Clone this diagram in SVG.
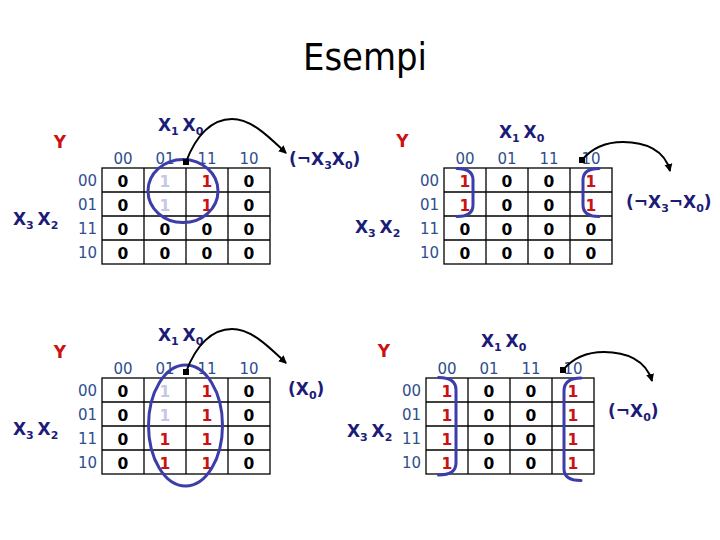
<svg xmlns="http://www.w3.org/2000/svg" width="720" height="540" viewBox="0 0 720 540">
<defs>
<style>
.title{font-family:"DejaVu Sans",sans-serif;font-size:37px;fill:#000}
.lbl{font-family:"DejaVu Sans",sans-serif;font-weight:bold;font-size:17px;fill:#1c1c78}
.sub{font-size:11px}
.y{font-family:"DejaVu Sans",sans-serif;font-weight:bold;font-size:17px;fill:#cc1111;text-anchor:middle}
.hd{font-family:"DejaVu Sans",sans-serif;font-size:15px;fill:#2e4e8e;text-anchor:middle}
.rh{font-family:"DejaVu Sans",sans-serif;font-size:15px;fill:#2e4e8e;text-anchor:end}
.v{font-family:"DejaVu Sans",sans-serif;font-weight:bold;font-size:15.5px;fill:#000;text-anchor:middle}
.r{fill:#cc1111}
.l{fill:#c6c6e6}
.grid{fill:#fff;stroke:#000;stroke-width:1.3}
.gl{stroke:#000;stroke-width:1.3}
.loop{fill:none;stroke:#3c3caa;stroke-width:3;stroke-linecap:round}
.arr{fill:none;stroke:#000;stroke-width:2}
</style>
<marker id="ah" markerWidth="10" markerHeight="10" refX="7" refY="5" orient="auto" markerUnits="userSpaceOnUse">
<path d="M0,1 L8,5 L0,9 Z" fill="#000"/>
</marker>
<g id="gridlines">
<rect class="grid" x="0" y="0" width="168" height="96"/>
<path class="gl" d="M42,0V96M84,0V96M126,0V96M0,24H168M0,48H168M0,72H168"/>
<text class="hd" x="21" y="-4">00</text><text class="hd" x="63" y="-4">01</text><text class="hd" x="105" y="-4">11</text><text class="hd" x="147" y="-4">10</text>
<text class="rh" x="-5" y="18">00</text><text class="rh" x="-5" y="42">01</text><text class="rh" x="-5" y="66">11</text><text class="rh" x="-5" y="90">10</text>
</g>
</defs>
<rect width="720" height="540" fill="#fff"/>
<text class="title" x="303" y="70" textLength="124" lengthAdjust="spacingAndGlyphs">Esempi</text>

<g id="map1">
<text class="y" x="60" y="148">Y</text>
<text class="lbl" x="158" y="131">X<tspan class="sub" dy="4">1 </tspan><tspan dy="-4">X</tspan><tspan class="sub" dy="4">0</tspan></text>
<text class="lbl" x="13" y="225">X<tspan class="sub" dy="4">3 </tspan><tspan dy="-4">X</tspan><tspan class="sub" dy="4">2</tspan></text>
<g transform="translate(102,168)">
<use href="#gridlines"/>
<text class="v" x="21" y="19">0</text><text class="v l" x="63" y="19">1</text><text class="v r" x="105" y="19">1</text><text class="v" x="147" y="19">0</text>
<text class="v" x="21" y="43">0</text><text class="v l" x="63" y="43">1</text><text class="v r" x="105" y="43">1</text><text class="v" x="147" y="43">0</text>
<text class="v" x="21" y="67">0</text><text class="v" x="63" y="67">0</text><text class="v" x="105" y="67">0</text><text class="v" x="147" y="67">0</text>
<text class="v" x="21" y="91">0</text><text class="v" x="63" y="91">0</text><text class="v" x="105" y="91">0</text><text class="v" x="147" y="91">0</text>
</g>
<ellipse class="loop" cx="183" cy="191" rx="35" ry="31.5"/>
<text class="lbl" x="289" y="165">(¬X<tspan class="sub" dy="4">3</tspan><tspan dy="-4">X</tspan><tspan class="sub" dy="4">0</tspan><tspan dy="-4">)</tspan></text>
</g>

<g id="map2">
<text class="y" x="402.5" y="147">Y</text>
<text class="lbl" x="499" y="138">X<tspan class="sub" dy="4">1 </tspan><tspan dy="-4">X</tspan><tspan class="sub" dy="4">0</tspan></text>
<text class="lbl" x="355" y="233">X<tspan class="sub" dy="4">3 </tspan><tspan dy="-4">X</tspan><tspan class="sub" dy="4">2</tspan></text>
<g transform="translate(444,168)">
<use href="#gridlines"/>
<text class="v r" x="21" y="19">1</text><text class="v" x="63" y="19">0</text><text class="v" x="105" y="19">0</text><text class="v r" x="147" y="19">1</text>
<text class="v r" x="21" y="43">1</text><text class="v" x="63" y="43">0</text><text class="v" x="105" y="43">0</text><text class="v r" x="147" y="43">1</text>
<text class="v" x="21" y="67">0</text><text class="v" x="63" y="67">0</text><text class="v" x="105" y="67">0</text><text class="v" x="147" y="67">0</text>
<text class="v" x="21" y="91">0</text><text class="v" x="63" y="91">0</text><text class="v" x="105" y="91">0</text><text class="v" x="147" y="91">0</text>
</g>
<path class="loop" d="M457,168.5 Q473,168.5 473,180 L473,205 Q473,216.5 457,216.5"/>
<path class="loop" d="M599,168.5 Q583,168.5 583,180 L583,205 Q583,216.5 599,216.5"/>
<text class="lbl" x="626" y="208">(¬X<tspan class="sub" dy="4">3</tspan><tspan dy="-4">¬X</tspan><tspan class="sub" dy="4">0</tspan><tspan dy="-4">)</tspan></text>
</g>

<g id="map3">
<text class="y" x="60" y="358">Y</text>
<text class="lbl" x="158" y="341">X<tspan class="sub" dy="4">1 </tspan><tspan dy="-4">X</tspan><tspan class="sub" dy="4">0</tspan></text>
<text class="lbl" x="13" y="435">X<tspan class="sub" dy="4">3 </tspan><tspan dy="-4">X</tspan><tspan class="sub" dy="4">2</tspan></text>
<g transform="translate(102,378)">
<use href="#gridlines"/>
<text class="v" x="21" y="19">0</text><text class="v l" x="63" y="19">1</text><text class="v r" x="105" y="19">1</text><text class="v" x="147" y="19">0</text>
<text class="v" x="21" y="43">0</text><text class="v l" x="63" y="43">1</text><text class="v r" x="105" y="43">1</text><text class="v" x="147" y="43">0</text>
<text class="v" x="21" y="67">0</text><text class="v r" x="63" y="67">1</text><text class="v r" x="105" y="67">1</text><text class="v" x="147" y="67">0</text>
<text class="v" x="21" y="91">0</text><text class="v r" x="63" y="91">1</text><text class="v r" x="105" y="91">1</text><text class="v" x="147" y="91">0</text>
</g>
<ellipse class="loop" cx="185.5" cy="425.5" rx="37" ry="60.5"/>
<text class="lbl" x="288" y="395">(X<tspan class="sub" dy="4">0</tspan><tspan dy="-4">)</tspan></text>
</g>

<g id="map4">
<text class="y" x="384" y="357">Y</text>
<text class="lbl" x="481" y="347">X<tspan class="sub" dy="4">1 </tspan><tspan dy="-4">X</tspan><tspan class="sub" dy="4">0</tspan></text>
<text class="lbl" x="347" y="437">X<tspan class="sub" dy="4">3 </tspan><tspan dy="-4">X</tspan><tspan class="sub" dy="4">2</tspan></text>
<g transform="translate(426,378)">
<use href="#gridlines"/>
<text class="v r" x="21" y="19">1</text><text class="v" x="63" y="19">0</text><text class="v" x="105" y="19">0</text><text class="v r" x="147" y="19">1</text>
<text class="v r" x="21" y="43">1</text><text class="v" x="63" y="43">0</text><text class="v" x="105" y="43">0</text><text class="v r" x="147" y="43">1</text>
<text class="v r" x="21" y="67">1</text><text class="v" x="63" y="67">0</text><text class="v" x="105" y="67">0</text><text class="v r" x="147" y="67">1</text>
<text class="v r" x="21" y="91">1</text><text class="v" x="63" y="91">0</text><text class="v" x="105" y="91">0</text><text class="v r" x="147" y="91">1</text>
</g>
<path class="loop" d="M438.5,377.5 Q456,377.5 456,390 L456,463 Q456,475 438.5,475"/>
<path class="loop" d="M581,378 Q564,378 564,391 L564,469 Q564,480.5 581,480.5"/>
<text class="lbl" x="608" y="417">(¬X<tspan class="sub" dy="4">0</tspan><tspan dy="-4">)</tspan></text>
</g>

<g id="connectors">
<path class="arr" marker-end="url(#ah)" d="M186,162 C196,135 212,119 232,119 C252,119 270,138 286,153"/>
<rect x="183" y="159" width="6" height="6" fill="#000"/>
<path class="arr" marker-end="url(#ah)" d="M582,160 C592,148 605,142 623,142 C645,142 665,150 670,171"/>
<rect x="579" y="157" width="6" height="6" fill="#000"/>
<path class="arr" marker-end="url(#ah)" d="M186,372 C196,345 212,329 232,329 C252,329 270,348 286,363"/>
<rect x="183" y="369" width="6" height="6" fill="#000"/>
<path class="arr" marker-end="url(#ah)" d="M563,370 C573,358 586,352 604,352 C626,352 646,360 652,381"/>
<rect x="560" y="367" width="6" height="6" fill="#000"/>
</g>
</svg>
